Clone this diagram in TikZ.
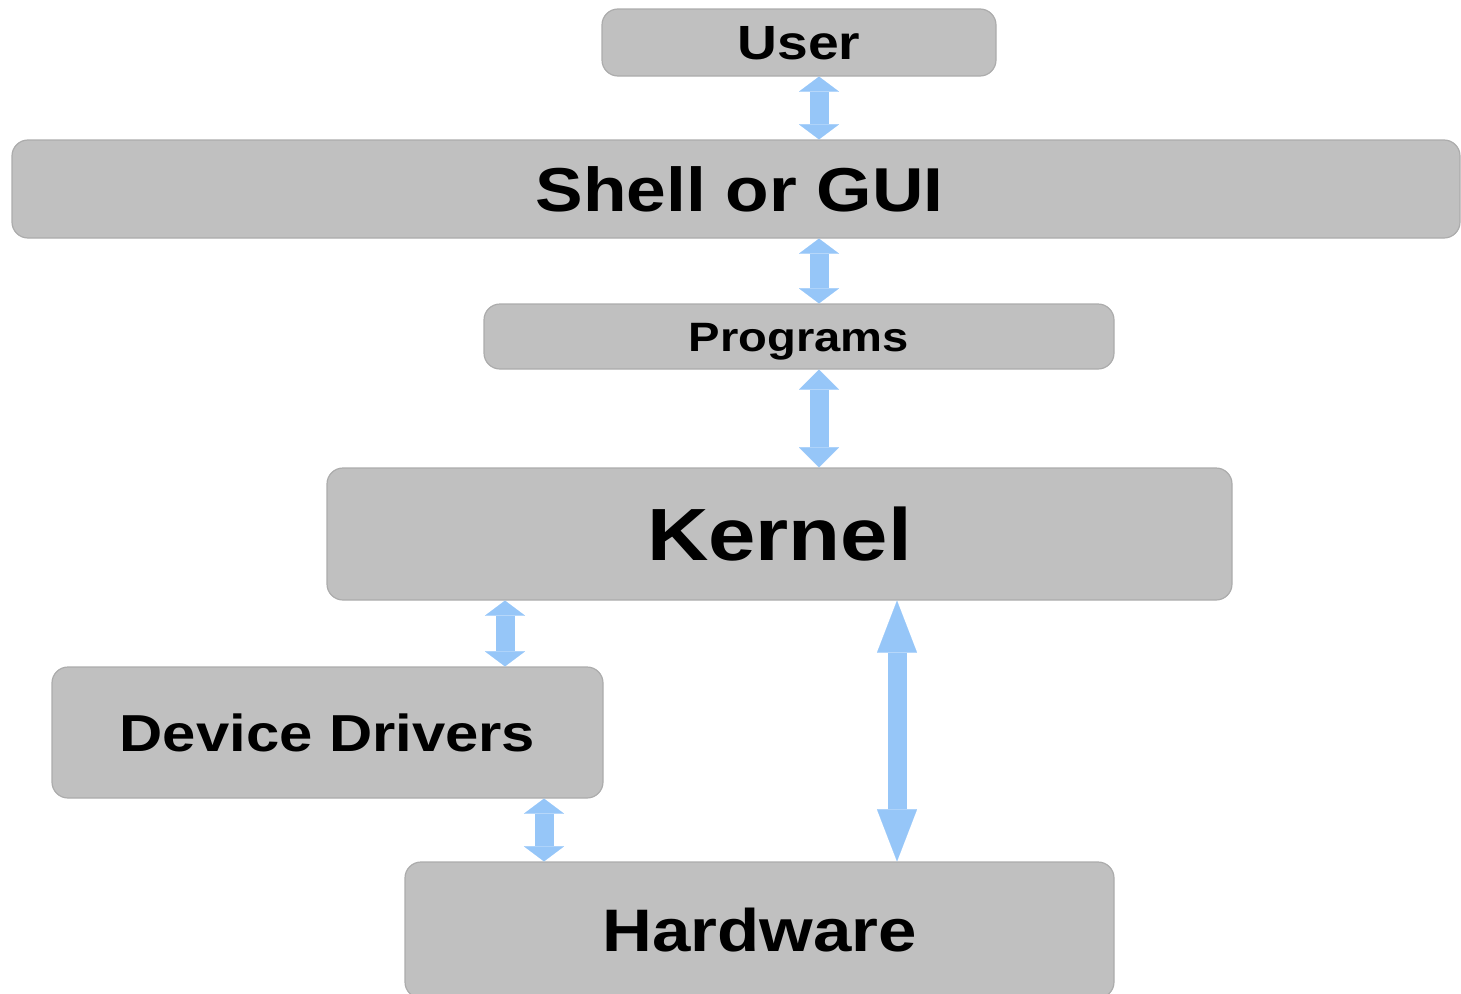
\documentclass[tikz,border=0pt]{standalone}
\usepackage{fontspec}
\setmainfont{Liberation Sans}
\usetikzlibrary{arrows.meta}
\definecolor{boxgray}{RGB}{192,192,192}
\definecolor{boxedge}{RGB}{172,172,172}
\definecolor{arrowblue}{RGB}{150,198,248}
\tikzset{
  layer/.style={draw=boxedge, line width=1.2pt, fill=boxgray, rounded corners=16pt,
    inner sep=0pt, text depth=0pt, align=center, font=\bfseries},
  biarrow/.style={draw=arrowblue, line width=19pt,
    {Triangle[width=40pt,length=#1,line width=0.1pt]}-{Triangle[width=40pt,length=#1,line width=0.1pt]}},
  biarrow/.default=15pt
}
\newcommand{\wtxt}[2]{\fontsize{#1}{#1}\selectfont\scalebox{1.15}[1]{#2}}
\begin{document}
\begin{tikzpicture}[x=1pt,y=-1pt]
\useasboundingbox (0,0) rectangle (1461,993);
\node[layer, minimum width=394pt, minimum height=67pt, text height=34.4pt] (user) at (799,42.5) {\wtxt{48}{User}};
\node[layer, minimum width=1448pt, minimum height=98pt, text height=44.4pt] (shell) at (736,189) {\hspace*{7pt}\wtxt{62}{Shell or GUI}};
\node[layer, minimum width=630pt, minimum height=65pt, text height=29.4pt] (prog) at (799,336.5) {\wtxt{41}{Programs}};
\node[layer, minimum width=905pt, minimum height=132pt, text height=53pt] (kernel) at (779.5,534) {\wtxt{74}{Kernel}};
\node[layer, minimum width=551pt, minimum height=131pt, text height=37.2pt] (dd) at (327.5,732.5) {\wtxt{52}{Device Drivers}};
\node[layer, minimum width=709pt, minimum height=136pt, text height=43pt] (hw) at (759.5,930) {\wtxt{60}{Hardware}};

\draw[biarrow] (user.south -| 819,0) -- (shell.north -| 819,0);
\draw[biarrow] (shell.south -| 819,0) -- (prog.north -| 819,0);
\draw[biarrow=20pt] (prog.south -| 819,0) -- (kernel.north -| 819,0);
\draw[biarrow] (kernel.south -| 505,0) -- (dd.north -| 505,0);
\draw[biarrow] (dd.south -| 544,0) -- (hw.north -| 544,0);
\draw[biarrow=52pt] (kernel.south -| 897,0) -- (hw.north -| 897,0);
\end{tikzpicture}
\end{document}
